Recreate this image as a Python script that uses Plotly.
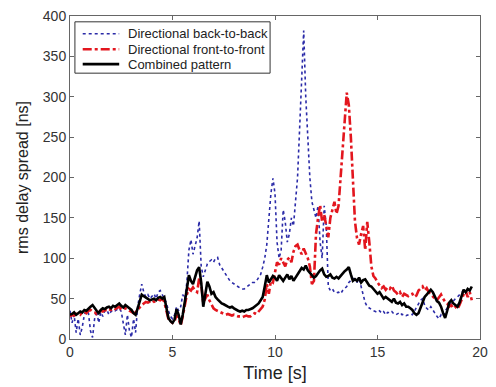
import numpy as np
import plotly.graph_objects as go

# time axis, 0.1 s steps
time_s = [round(i * 0.1, 1) for i in range(197)]

combined = [
    30, 31, 33, 30, 32, 34, 33, 36, 35, 38,
    40, 42, 38, 35, 32, 36, 38, 37, 39, 40,
    38, 41, 40, 42, 44, 41, 39, 42, 40, 38,
    36, 32, 30, 38, 48, 55, 53, 51, 50, 48,
    49, 50, 48, 51, 52, 50, 52, 40, 26, 22,
    20, 24, 37, 30, 18, 30, 49, 62, 79, 72,
    68, 78, 85, 89, 70, 40, 55, 71, 65, 56,
    58, 52, 49, 46, 44, 43, 41, 40, 39, 40,
    38, 36, 35, 34, 35, 34, 36, 36, 37, 38,
    40, 42, 44, 48, 52, 65, 79, 70, 74, 78,
    76, 72, 79, 75, 72, 76, 80, 74, 78, 72,
    76, 81, 84, 88, 86, 91, 85, 82, 79, 76,
    78, 82, 85, 87, 80, 77, 78, 80, 76, 75,
    77, 75, 78, 82, 84, 86, 89, 80, 72, 74,
    72, 76, 70, 73, 74, 70, 66, 65, 62, 60,
    56, 58, 54, 50, 52, 50, 48, 46, 50, 45,
    44, 46, 42, 44, 40, 40, 38, 36, 32, 30,
    32, 38, 45, 52, 55, 58, 61, 58, 52, 47,
    45, 40, 32, 26, 35, 45, 48, 44, 42, 40,
    45, 52, 61, 58, 62, 60, 65,
]

front_to_front = [
    28, 30, 29, 31, 32, 30, 33, 34, 32, 35,
    36, 34, 33, 31, 33, 35, 34, 36, 35, 37,
    36, 38, 37, 39, 40, 37, 36, 38, 37, 35,
    34, 32, 33, 36, 40, 42, 44, 46, 45, 47,
    48, 46, 47, 49, 48, 50, 46, 35, 25, 22,
    20, 22, 30, 25, 17, 28, 40, 55, 62, 60,
    64, 60, 58, 75, 68, 45, 50, 55, 48, 43,
    38, 36, 35, 33, 32, 31, 30, 31, 30, 29,
    30, 29, 28, 28, 27, 28, 29, 28, 28, 30,
    32, 31, 34, 36, 40, 49, 68, 56, 72, 70,
    85, 95, 92, 100, 95, 90, 98, 101, 95, 108,
    115, 117, 110, 105, 112, 106, 100, 90, 68, 72,
    130, 150, 166, 145, 154, 140, 126, 150, 160, 170,
    155, 165, 200, 240, 270, 305, 290, 250, 200, 146,
    125, 117, 130, 140, 110, 145, 120, 90, 78, 75,
    70, 67, 63, 65, 61, 64, 62, 66, 60, 58,
    55, 58, 52, 56, 54, 53, 55, 56, 52, 54,
    60, 62, 65, 60, 63, 58, 55, 52, 50, 48,
    52, 55, 50, 46, 44, 40, 42, 38, 40, 37,
    42, 50, 55, 60, 52, 58, 48,
]

back_to_back = [
    35, 20, 30, 8, 25, 5, 15, 30, 35, 32,
    10, 2, 25, 35, 20, 33, 28, 35, 36, 30,
    34, 36, 35, 37, 38, 34, 20, 5, 30, 10,
    2, 25, 8, 40, 55, 68, 58, 52, 55, 50,
    53, 56, 50, 58, 60, 55, 52, 45, 35, 28,
    25, 30, 40, 35, 40, 55, 50, 70, 110, 123,
    105, 115, 125, 146, 90, 77, 85, 93, 96, 98,
    95, 100, 101, 92, 88, 84, 80, 75, 72, 70,
    68, 66, 65, 63, 62, 62, 64, 66, 68, 70,
    70, 72, 76, 80, 89, 100, 117, 150, 180, 199,
    180, 120, 100, 110, 160, 145, 120, 130, 150, 140,
    170, 200, 260, 320, 382, 300, 250, 200, 170, 160,
    150, 165, 120, 100, 165, 140, 65, 60, 62, 58,
    57, 58, 56, 60, 62, 65, 70, 72, 75, 74,
    70, 75, 65, 52, 45, 40, 38, 36, 35, 34,
    33, 35, 32, 34, 30, 33, 32, 34, 31, 30,
    32, 33, 30, 31, 29, 30, 31, 30, 35, 40,
    45, 48, 50, 42, 38, 36, 40, 35, 32, 28,
    25, 30, 28, 35, 38, 42, 45, 48, 50, 52,
    55, 58, 60, 56, 62, 60, 63,
]

series_names = ["Directional back-to-back", "Directional front-to-front", "Combined pattern"]
series_colors = ["#2b2ba8", "#e3161e", "#000000"]
series_dash = ["dot", "dashdot", "solid"]
series_width = [1.6, 2.6, 2.6]
series_values = [back_to_back, front_to_front, combined]

x_ticks = [0, 5, 10, 15, 20]
y_ticks = [0, 50, 100, 150, 200, 250, 300, 350, 400]

FONT = "Liberation Sans, Arial, sans-serif"

fig = go.Figure()
for name, vals, col, dash, w in zip(series_names, series_values, series_colors, series_dash, series_width):
    fig.add_trace(go.Scatter(
        x=time_s, y=vals, mode="lines", name=name, showlegend=False,
        line=dict(color=col, width=w, dash=dash),
    ))

# hand-built legend box (MATLAB-style compact legend)
shapes = [dict(type="rect", xref="paper", yref="paper", x0=0.012, x1=0.488, y0=0.823, y1=0.982,
               line=dict(color="#333333", width=1), fillcolor="white", layer="above")]
annotations = []
row_y = [0.945, 0.897, 0.851]
for name, col, dash, w, ry in zip(series_names, series_colors, series_dash, series_width, row_y):
    shapes.append(dict(type="line", xref="paper", yref="paper", x0=0.031, x1=0.120, y0=ry, y1=ry,
                       line=dict(color=col, width=w, dash=dash), layer="above"))
    annotations.append(dict(xref="paper", yref="paper", x=0.137, y=ry, xanchor="left", yanchor="middle",
                            text=name, showarrow=False,
                            font=dict(family=FONT, size=13, color="#222222")))

axis_common = dict(
    showline=True, linecolor="#666666", linewidth=1, mirror="ticks",
    ticks="inside", ticklen=4, tickcolor="#666666", showgrid=False, zeroline=False,
    tickfont=dict(family=FONT, size=14, color="#333333"),
)

fig.update_layout(
    width=496, height=387,
    margin=dict(l=70, r=8, t=15, b=44),
    paper_bgcolor="white", plot_bgcolor="white",
    showlegend=False,
    shapes=shapes,
    annotations=annotations,
    xaxis=dict(
        range=[0, 20], tickvals=x_ticks, ticktext=[str(v) for v in x_ticks],
        title=dict(text="Time [s]", font=dict(family=FONT, size=18, color="#222222"), standoff=7),
        **axis_common,
    ),
    yaxis=dict(
        range=[0, 400], tickvals=y_ticks, ticktext=[str(v) for v in y_ticks],
        title=dict(text="rms delay spread [ns]", font=dict(family=FONT, size=16, color="#222222"), standoff=10),
        **axis_common,
    ),
)

fig.write_html("out.html")
